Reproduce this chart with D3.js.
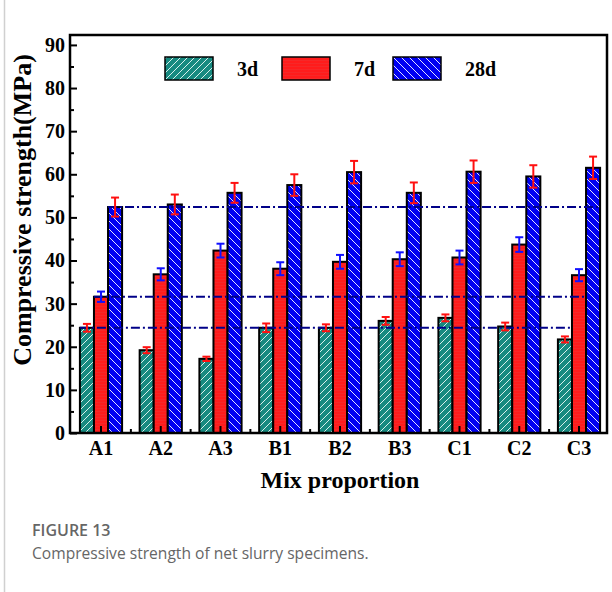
<!DOCTYPE html>
<html lang="en">
  <head>
    <meta charset="UTF-8" />
    <title>compressive-strength</title>
    <style>
      body {
        margin: 0;
        background: #fff;
      }
      svg {
        display: block;
      }
      .axis text {
        font-family: "Liberation Serif", "Times New Roman", serif;
        font-weight: bold;
        font-size: 20px;
        fill: #000;
      }
      .axis-title {
        font-family: "Liberation Serif", "Times New Roman", serif;
        font-weight: bold;
        font-size: 24px;
        text-anchor: middle;
      }
      .legend-label {
        font-family: "Liberation Serif", "Times New Roman", serif;
        font-weight: bold;
        font-size: 20px;
      }
      .cap-head {
        font-family: "Open Sans", sans-serif;
        font-size: 16px;
        font-weight: 600;
        fill: #666;
      }
      .cap-text {
        font-family: "Open Sans", sans-serif;
        font-size: 15.6px;
        fill: #666;
      }
    </style>
  </head>
  <body>
    <script src="https://cdn.jsdelivr.net/npm/d3@7"></script>
    <script>
      // data
      const mixes = ["A1", "A2", "A3", "B1", "B2", "B3", "C1", "C2", "C3"];
      const ages = ["3d", "7d", "28d"];
      const strength3d = [24.4, 19.2, 17.2, 24.4, 24.4, 26.0, 26.7, 24.7, 21.7];
      const strength7d = [31.6, 36.8, 42.3, 38.1, 39.7, 40.3, 40.7, 43.7, 36.6];
      const strength28d = [52.4, 53.0, 55.7, 57.5, 60.5, 55.7, 60.6, 59.5, 61.5];
      const err3d = [0.9, 0.7, 0.5, 1.0, 0.8, 0.9, 0.8, 0.9, 0.7];
      const err7d = [1.2, 1.4, 1.6, 1.5, 1.6, 1.6, 1.6, 1.7, 1.4];
      const err28d = [2.2, 2.3, 2.3, 2.5, 2.6, 2.4, 2.6, 2.6, 2.6];
      const yTicks = [0, 10, 20, 30, 40, 50, 60, 70, 80, 90];
      const yMinorTicks = [5, 15, 25, 35, 45, 55, 65, 75, 85];

      const values = [strength3d, strength7d, strength28d];
      const errors = [err3d, err7d, err28d];
      const fills = ["url(#hatchTeal)", "url(#hatchRed)", "url(#hatchBlue)"];
      const errColors = ["#ff1010", "#1010ff", "#ff1010"];

      const W = 612, H = 592;
      const plotL = 70, plotR = 607, plotT = 35, plotB = 433;

      const svg = d3.select("body").append("svg").attr("width", W).attr("height", H);

      // patterns
      const defs = svg.append("defs");
      const pTeal = defs.append("pattern").attr("id", "hatchTeal")
        .attr("patternUnits", "userSpaceOnUse").attr("width", 7).attr("height", 7);
      pTeal.append("rect").attr("width", 7).attr("height", 7).attr("fill", "#178a80");
      pTeal.append("path").attr("d", "M0,7 L7,0 M-1,1 L1,-1 M6,8 L8,6")
        .attr("stroke", "#d8f0ec").attr("stroke-width", 1);
      const pBlue = defs.append("pattern").attr("id", "hatchBlue")
        .attr("patternUnits", "userSpaceOnUse").attr("width", 8).attr("height", 8);
      pBlue.append("rect").attr("width", 8).attr("height", 8).attr("fill", "#0000f2");
      pBlue.append("path").attr("d", "M0,0 L8,8 M-1,7 L1,9 M7,-1 L9,1")
        .attr("stroke", "#e0e0ff").attr("stroke-width", 1);
      const pRed = defs.append("pattern").attr("id", "hatchRed")
        .attr("patternUnits", "userSpaceOnUse").attr("width", 3).attr("height", 3);
      pRed.append("rect").attr("width", 3).attr("height", 3).attr("fill", "#ff1c1c");
      pRed.append("path").attr("d", "M0,0.5 L3,0.5").attr("stroke", "#f03030").attr("stroke-width", 0.6);

      // page border on the left
      svg.append("line").attr("x1", 4.5).attr("x2", 4.5).attr("y1", 0).attr("y2", H)
        .attr("stroke", "#d0d0d0").attr("stroke-width", 1.5);

      const x = d3.scaleBand().domain(mixes).range([71, 609]).paddingInner(0.294).paddingOuter(0.149);
      const xSub = d3.scaleBand().domain(ages).range([0, x.bandwidth()]);
      const y = d3.scaleLinear().domain([0, 92.3]).range([plotB, plotT]);

      // bars
      const gBars = svg.append("g");
      ages.forEach((age, s) => {
        gBars.append("g").selectAll("rect")
          .data(mixes)
          .join("rect")
          .attr("x", d => x(d) + xSub(age))
          .attr("y", (d, i) => y(values[s][i]))
          .attr("width", xSub.bandwidth())
          .attr("height", (d, i) => plotB - y(values[s][i]))
          .attr("fill", fills[s])
          .attr("stroke", "#000")
          .attr("stroke-width", 2);
      });

      // reference lines at A1 values
      const gRef = svg.append("g");
      ages.forEach((age, s) => {
        gRef.append("line")
          .attr("x1", x(mixes[0]) + xSub(age))
          .attr("x2", x(mixes[mixes.length - 1]) + xSub(age) + xSub.bandwidth())
          .attr("y1", y(values[s][0]))
          .attr("y2", y(values[s][0]))
          .attr("stroke", "#000088")
          .attr("stroke-width", 2)
          .attr("stroke-dasharray", "9,3,2,3");
      });

      // error bars
      const capW = 4;
      const gErr = svg.append("g").attr("stroke-width", 2);
      ages.forEach((age, s) => {
        mixes.forEach((m, i) => {
          const cx = x(m) + xSub(age) + xSub.bandwidth() / 2;
          const hi = y(values[s][i] + errors[s][i]);
          const lo = y(values[s][i] - errors[s][i]);
          const g = gErr.append("g").attr("stroke", errColors[s]);
          g.append("line").attr("x1", cx).attr("x2", cx).attr("y1", hi).attr("y2", lo);
          g.append("line").attr("x1", cx - capW).attr("x2", cx + capW).attr("y1", hi).attr("y2", hi);
          g.append("line").attr("x1", cx - capW).attr("x2", cx + capW).attr("y1", lo).attr("y2", lo);
        });
      });

      // axes (ticks pointing inward)
      svg.append("g").attr("class", "axis")
        .attr("transform", `translate(${plotL},0)`)
        .call(d3.axisLeft(y).tickValues(yTicks).tickSize(-7).tickPadding(5));
      svg.append("g").attr("transform", `translate(${plotL},0)`)
        .call(d3.axisLeft(y).tickValues(yMinorTicks).tickSize(-4).tickFormat(""));

      svg.append("g").attr("class", "axis")
        .attr("transform", `translate(0,${plotB})`)
        .call(d3.axisBottom(x).tickSize(-7).tickPadding(8));
      const minorX = mixes.slice(1).map(m => x(m) - x.step() * x.paddingInner() / 2);
      svg.append("g").selectAll("line").data(minorX).join("line")
        .attr("x1", d => d).attr("x2", d => d)
        .attr("y1", plotB).attr("y2", plotB - 4)
        .attr("stroke", "#000").attr("stroke-width", 2);

      svg.selectAll(".domain").remove();
      svg.selectAll(".tick line").attr("stroke", "#000").attr("stroke-width", 2);

      // frame
      svg.append("rect").attr("x", plotL).attr("y", plotT)
        .attr("width", plotR - plotL).attr("height", plotB - plotT)
        .attr("fill", "none").attr("stroke", "#000").attr("stroke-width", 2.5);

      // titles
      svg.append("text").attr("class", "axis-title")
        .style("font-size", "26px")
        .attr("transform", `translate(31,${(52 + 368) / 2}) rotate(-90)`)
        .text("Compressive strength(MPa)");
      svg.append("text").attr("class", "axis-title")
        .attr("x", 340).attr("y", 488)
        .text("Mix proportion");

      // legend
      const legendX = [165, 282, 393];
      const gLegend = svg.append("g");
      ages.forEach((age, s) => {
        gLegend.append("rect")
          .attr("x", legendX[s]).attr("y", 57)
          .attr("width", 48).attr("height", 23)
          .attr("fill", fills[s]).attr("stroke", "#000").attr("stroke-width", 1.5);
        gLegend.append("text").attr("class", "legend-label")
          .attr("x", legendX[s] + 72).attr("y", 76)
          .text(age);
      });

      // caption
      svg.append("text").attr("class", "cap-head").attr("x", 32).attr("y", 536).text("FIGURE 13");
      svg.append("text").attr("class", "cap-text").attr("x", 32).attr("y", 559)
        .text("Compressive strength of net slurry specimens.");
    </script>
  </body>
</html>
